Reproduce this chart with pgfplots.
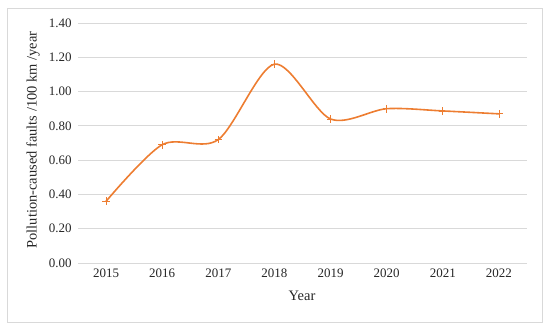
\documentclass[border=0pt]{standalone}
\usepackage{pgfplots}
\pgfplotsset{compat=1.18}
\usepackage{fontspec}
\setmainfont{Liberation Serif}
\definecolor{excelorange}{HTML}{ED7D31}
\definecolor{gridgray}{HTML}{D9D9D9}
\begin{document}
\begin{tikzpicture}[x=1bp,y=1bp]
\path[use as bounding box] (0,0) rectangle (550,330);
\draw[gridgray, line width=0.8bp] (7,8) rectangle (542,322);
\begin{axis}[
  at={(78bp,67bp)}, anchor=south west,
  scale only axis, width=449bp, height=240bp,
  xmin=-0.5, xmax=7.5, ymin=0, ymax=1.4,
  ytick={0,0.2,0.4,0.6,0.8,1.0,1.2,1.4},
  xtick={0,1,2,3,4,5,6,7},
  xticklabels={2015,2016,2017,2018,2019,2020,2021,2022},
  axis line style={draw=none},
  major tick length=0pt,
  ymajorgrids, grid style={gridgray, line width=0.8bp},
  tick label style={font=\fontsize{13}{15}\selectfont, text=black!85},
  /pgf/number format/assume math mode=true,
  yticklabel style={/pgf/number format/fixed, /pgf/number format/fixed zerofill, /pgf/number format/precision=2, xshift=-3bp},
  xticklabel style={yshift=-2bp},
  clip=false,
]
\addplot[excelorange, line width=1.6bp, smooth, tension=0.5,
  mark=+, mark size=3.8bp, mark options={line width=0.8bp}]
  coordinates {(0,0.36) (1,0.69) (2,0.72) (3,1.16) (4,0.84) (5,0.90) (6,0.887) (7,0.87)};
\end{axis}
\node[rotate=90, font=\fontsize{14.5}{16}\selectfont, text=black!85] at (33,190) {Pollution-caused faults /100 km /year};
\node[font=\fontsize{14.5}{16}\selectfont, text=black!85] at (302,34) {Year};
\end{tikzpicture}
\end{document}
